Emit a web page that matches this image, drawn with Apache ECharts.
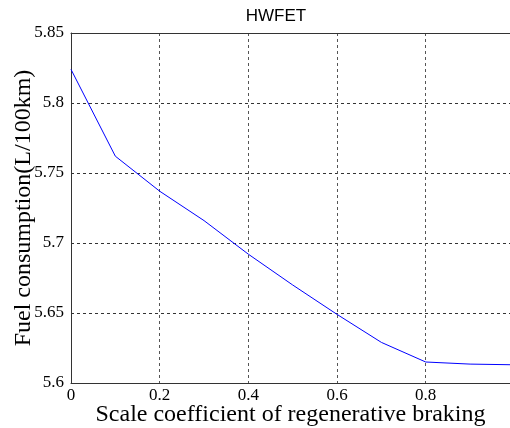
<!DOCTYPE html>
<html>
<head>
<meta charset="utf-8">
<script src="https://cdn.jsdelivr.net/npm/echarts@6/dist/echarts.min.js"></script>
<style>
  html, body { margin: 0; padding: 0; background: #fff; }
  #chart { width: 510px; height: 428px; }
</style>
</head>
<body>
<div id="chart"></div>
<script>
// scale coefficient of regenerative braking
var coef = [0, 0.1, 0.2, 0.3, 0.4, 0.5, 0.6, 0.7, 0.8, 0.9, 1.0];
// fuel consumption L/100km
var fuel = [5.824, 5.762, 5.737, 5.716, 5.692, 5.670, 5.649, 5.629, 5.615, 5.6135, 5.613];

var chart = echarts.init(document.getElementById('chart'));

var serif = 'Liberation Serif';
var pts = coef.map(function (c, i) { return [c, fuel[i]]; });

var option = {
  animation: false,
  title: {
    text: 'HWFET',
    left: 271,
    top: 3,
    textAlign: 'center',
    textStyle: { fontFamily: 'Liberation Sans', fontSize: 17, fontWeight: 'normal', color: '#000' }
  },
  grid: { left: 71, top: 33, right: 0, bottom: 45, containLabel: false, outerBoundsMode: 'none' },
  xAxis: [{
    type: 'value',
    min: 0,
    max: 0.99,
    interval: 0.2,
    name: 'Scale coefficient of regenerative braking',
    nameLocation: 'middle',
    nameMoveOverlap: false,
    nameGap: 20,
    nameTextStyle: { fontFamily: serif, fontSize: 24, color: '#000' },
    axisLine: { lineStyle: { color: '#333', width: 1 } },
    axisTick: { show: false },
    axisLabel: { showMaxLabel: false, margin: 4, fontFamily: serif, fontSize: 17, color: '#000' },
    splitLine: { lineStyle: { color: '#555', type: [3, 3], width: 1 } }
  }, {
    type: 'value',
    position: 'top',
    min: 0,
    max: 0.99,
    axisLine: { show: true, lineStyle: { color: '#333', width: 1 } },
    axisTick: { show: false },
    axisLabel: { show: false },
    splitLine: { show: false }
  }],
  yAxis: {
    type: 'value',
    min: 5.6,
    max: 5.85,
    interval: 0.05,
    name: 'Fuel consumption(L/100km)',
    nameLocation: 'middle',
    nameMoveOverlap: false,
    nameGap: 35,
    nameTextStyle: { fontFamily: serif, fontSize: 24, color: '#000' },
    axisLine: { show: true, lineStyle: { color: '#333', width: 1 } },
    axisTick: { show: false },
    axisLabel: { margin: 7, fontFamily: serif, fontSize: 17, color: '#000' },
    splitLine: { lineStyle: { color: '#333', type: [3, 3], width: 1 } }
  },
  series: [{
    type: 'line',
    data: pts,
    showSymbol: false,
    lineStyle: { color: '#0000ff', width: 1 }
  }]
};

chart.setOption(option);
</script>
</body>
</html>
